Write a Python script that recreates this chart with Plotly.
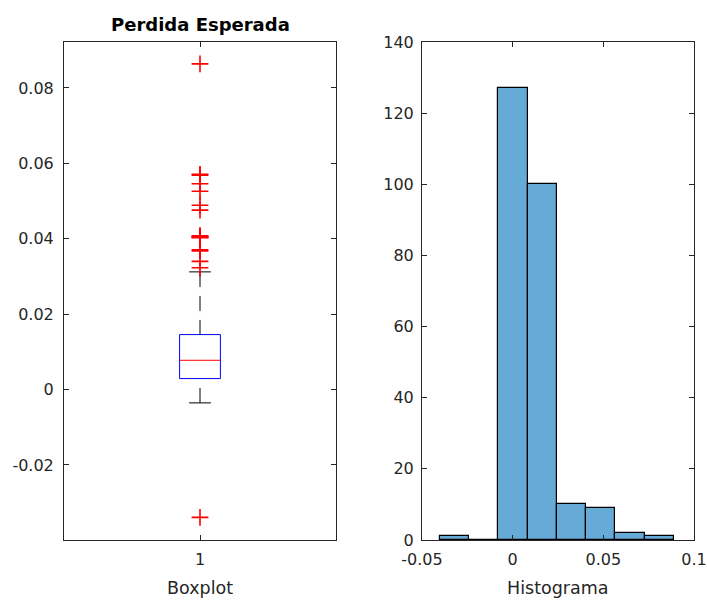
import plotly.graph_objects as go

# Boxplot summary statistics of the expected loss
q1 = 0.00292
median = 0.00777
q3 = 0.01459
whisker_low = -0.00353
whisker_high = 0.03122
outliers = [0.0864, 0.0571, 0.0569, 0.0546, 0.0526, 0.0489, 0.0476,
            0.0408, 0.0406, 0.0405, 0.0404, 0.0403, 0.0371, 0.0368,
            0.0340, 0.0323, -0.0339]

# Histogram of the same variable
bin_edges = [-0.0402, -0.02407, -0.00794, 0.00819, 0.02432,
             0.04045, 0.05658, 0.07271, 0.08884]
bin_counts = [1, 0, 127, 100, 10, 9, 2, 1]

FONT = "DejaVu Sans"
AX = "#262626"
W, H = 707, 601

box_pos = 1.0
box_half = 0.075
cap_half = 0.04

fig = go.Figure()

# box body
fig.add_trace(go.Scatter(
    x=[box_pos - box_half, box_pos + box_half, box_pos + box_half,
       box_pos - box_half, box_pos - box_half],
    y=[q1, q1, q3, q3, q1], mode="lines",
    line=dict(color="#0000ff", width=1), xaxis="x", yaxis="y",
    hoverinfo="skip"))
# median
fig.add_trace(go.Scatter(
    x=[box_pos - box_half, box_pos + box_half], y=[median, median],
    mode="lines", line=dict(color="#ff0000", width=1), xaxis="x", yaxis="y",
    hoverinfo="skip"))
# whiskers (dashed, drawn from the whisker end toward the box)
for end, edge in [(whisker_high, q3), (whisker_low, q1)]:
    fig.add_trace(go.Scatter(
        x=[box_pos, box_pos], y=[end, edge], mode="lines",
        line=dict(color="black", width=1, dash="15px,9px"),
        xaxis="x", yaxis="y", hoverinfo="skip"))
    fig.add_trace(go.Scatter(
        x=[box_pos - cap_half, box_pos + cap_half], y=[end, end],
        mode="lines", line=dict(color="black", width=1),
        xaxis="x", yaxis="y", hoverinfo="skip"))
# outliers
fig.add_trace(go.Scatter(
    x=[box_pos] * len(outliers), y=outliers, mode="markers",
    marker=dict(symbol="cross-thin", size=12,
                line=dict(color="#ff0000", width=1.6)),
    xaxis="x", yaxis="y"))

# histogram bars
centers = [(a + b) / 2 for a, b in zip(bin_edges[:-1], bin_edges[1:])]
widths = [b - a for a, b in zip(bin_edges[:-1], bin_edges[1:])]
fig.add_trace(go.Bar(
    x=centers, y=bin_counts, width=widths,
    marker=dict(color="#66aad7", line=dict(color="black", width=1.2)),
    xaxis="x2", yaxis="y2"))

axis_common = dict(
    showline=True, linecolor=AX, linewidth=1, mirror="ticks",
    ticks="inside", ticklen=5, tickcolor=AX, tickwidth=1,
    showgrid=False, zeroline=False, automargin=False,
    tickfont=dict(family=FONT, size=16, color=AX),
)

y_dom = [1 - 540 / H, 1 - 42 / H]

fig.update_layout(
    width=W, height=H,
    margin=dict(l=0, r=0, t=0, b=0, autoexpand=False),
    paper_bgcolor="white", plot_bgcolor="white",
    showlegend=False,
    xaxis=dict(domain=[64 / W, 336 / W], range=[0.5, 1.5],
               tickvals=[1], ticktext=["1"], ticklabelstandoff=5,
               anchor="y", **axis_common),
    yaxis=dict(domain=y_dom, range=[-0.0399, 0.0922],
               tickvals=[-0.02, 0, 0.02, 0.04, 0.06, 0.08],
               ticktext=["-0.02", "0", "0.02", "0.04", "0.06", "0.08"],
               ticklabelstandoff=6, anchor="x", **axis_common),
    xaxis2=dict(domain=[422 / W, 694 / W], range=[-0.05, 0.1],
                tickvals=[-0.05, 0, 0.05, 0.1],
                ticktext=["-0.05", "0", "0.05", "0.1"],
                ticklabelstandoff=5, anchor="y2", **axis_common),
    yaxis2=dict(domain=y_dom, range=[0, 140],
                tickvals=list(range(0, 141, 20)),
                ticklabelstandoff=4, anchor="x2", **axis_common),
    bargap=0,
    annotations=[
        dict(text="<b>Perdida Esperada</b>", x=200 / W, y=1 - 25 / H,
             xref="paper", yref="paper", xanchor="center", yanchor="middle",
             showarrow=False, font=dict(family=FONT, size=18, color="black")),
        dict(text="Boxplot", x=200 / W, y=1 - 588 / H,
             xref="paper", yref="paper", xanchor="center", yanchor="middle",
             showarrow=False, font=dict(family=FONT, size=17.5, color=AX)),
        dict(text="Histograma", x=558 / W, y=1 - 588 / H,
             xref="paper", yref="paper", xanchor="center", yanchor="middle",
             showarrow=False, font=dict(family=FONT, size=17.5, color=AX)),
    ],
)

fig.write_html("out.html")
